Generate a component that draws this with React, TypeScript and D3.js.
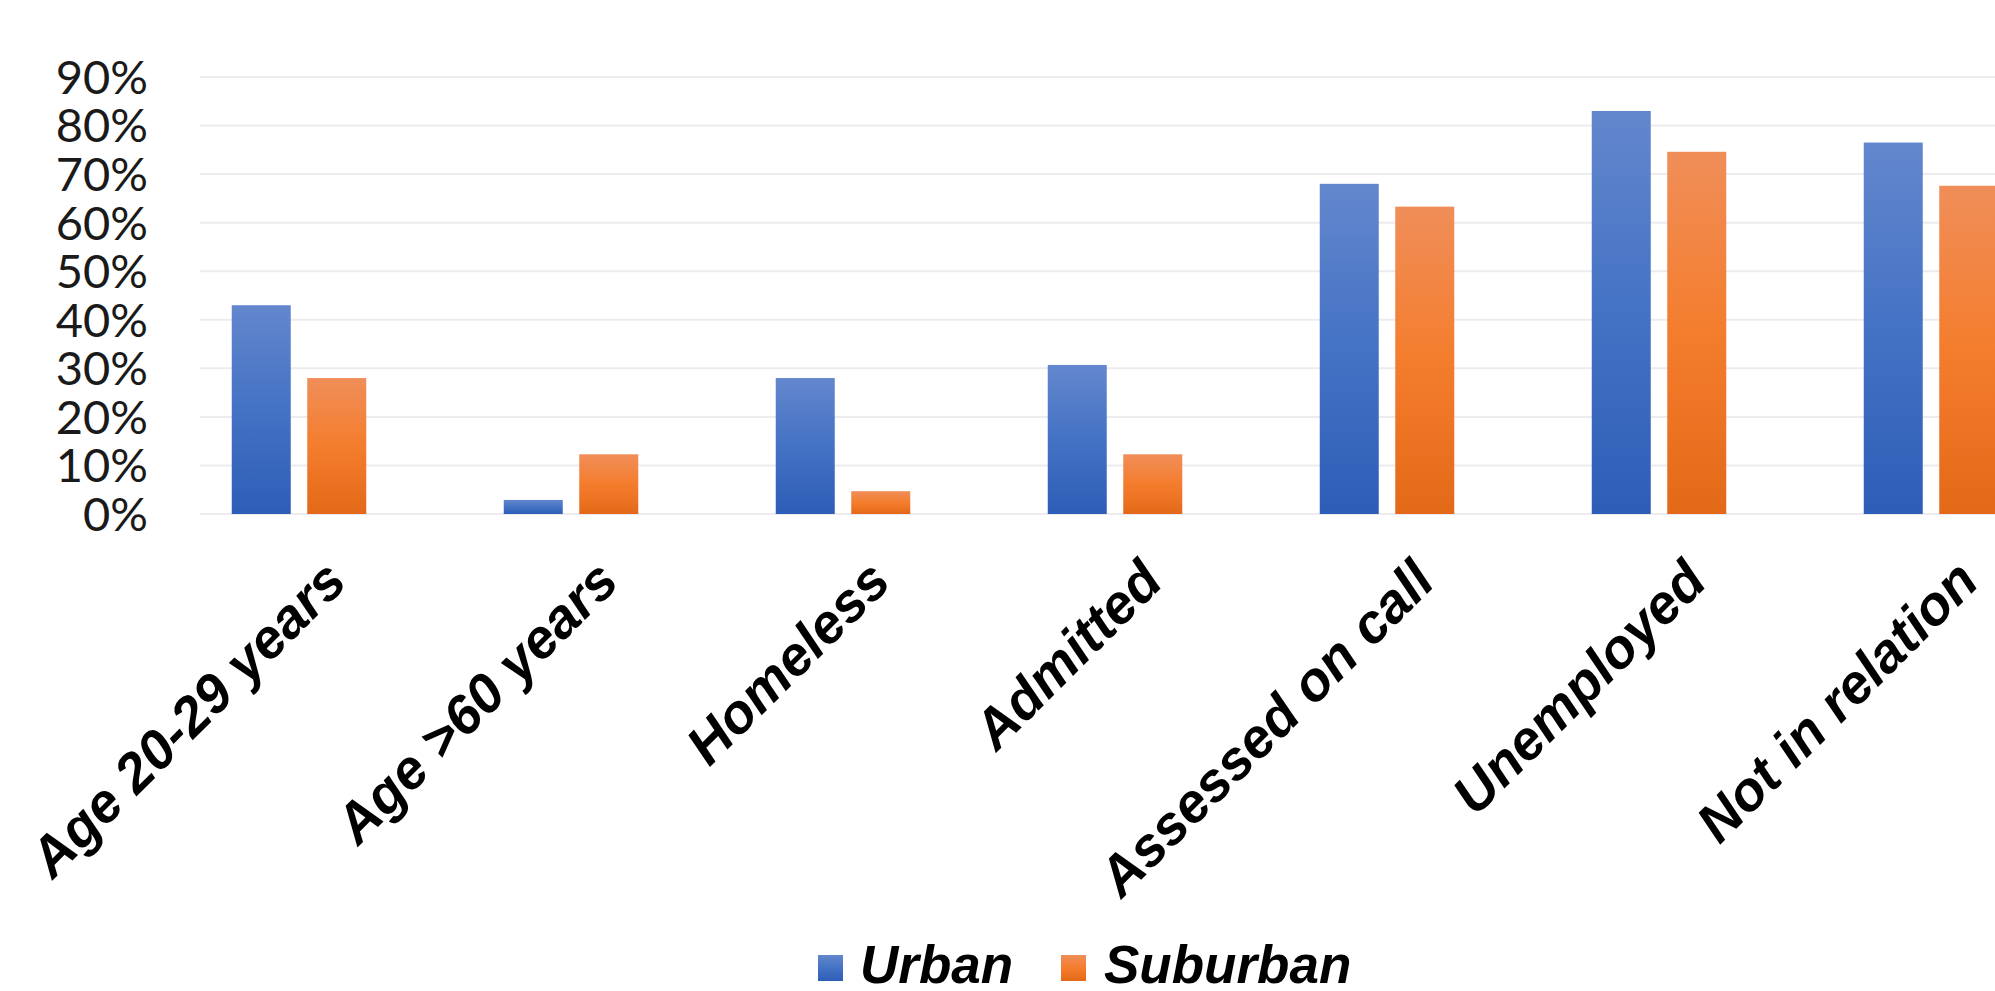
import React from "react";
import * as d3 from "d3";

// Share of patients per characteristic, by setting (percent)
const categories = [
  "Age 20-29 years",
  "Age >60 years",
  "Homeless",
  "Admitted",
  "Assessed on call",
  "Unemployed",
  "Not in relation",
];
const urbanValues = [43, 2.9, 28, 30.7, 68, 83, 76.5];
const suburbanValues = [28, 12.3, 4.7, 12.3, 63.3, 74.6, 67.6];
const seriesNames = ["Urban", "Suburban"];
const yTicks = [0, 10, 20, 30, 40, 50, 60, 70, 80, 90];

const W = 1995;
const H = 991;

const gradients: Record<string, string[]> = {
  Urban: ["#6387cd", "#4472c4", "#2d5db7"],
  Suburban: ["#f08e59", "#f47d2d", "#e36918"],
};

export default function App() {
  const gridLeft = 200;
  const y = d3.scaleLinear().domain([0, 90]).range([514, 77]);

  const x0 = d3
    .scaleBand<string>()
    .domain(categories)
    .range([163, 163 + 272 * categories.length])
    .paddingInner(0.5055)
    .paddingOuter(0.5055 / 2);

  const x1 = d3
    .scaleBand<string>()
    .domain(seriesNames)
    .range([0, x0.bandwidth()])
    .paddingInner(0.2185);

  const rows = categories.map((c, i) => ({
    category: c,
    values: [
      { key: "Urban", value: urbanValues[i] },
      { key: "Suburban", value: suburbanValues[i] },
    ],
  }));

  const labelFont = "'Liberation Sans', Arial, sans-serif";

  return (
    <div style={{ position: "absolute", left: 0, top: 0 }}>
      <style>{`body{margin:0;background:#fff}`}</style>
      <svg width={W} height={H} style={{ display: "block", background: "#fff" }}>
        <defs>
          {seriesNames.map((s) => (
            <linearGradient key={s} id={`grad-${s}`} x1="0" y1="0" x2="0" y2="1">
              <stop offset="0%" stopColor={gradients[s][0]} />
              <stop offset="50%" stopColor={gradients[s][1]} />
              <stop offset="100%" stopColor={gradients[s][2]} />
            </linearGradient>
          ))}
        </defs>

        {/* horizontal gridlines */}
        {yTicks.map((t) => (
          <line
            key={`g${t}`}
            x1={gridLeft}
            x2={W}
            y1={y(t)}
            y2={y(t)}
            stroke="#ebebf0"
            strokeWidth={2}
          />
        ))}

        {/* y tick labels */}
        {yTicks.map((t) => (
          <text
            key={`t${t}`}
            x={148}
            y={y(t)}
            dy="0.36em"
            textAnchor="end"
            fontFamily="Lato, 'Open Sans', sans-serif"
            fontSize={47}
            fill="#1a1a1a"
          >
            {`${t}%`}
          </text>
        ))}

        {/* bars */}
        {rows.map((r) => (
          <g key={r.category} transform={`translate(${x0(r.category)},0)`}>
            {r.values.map((v) => (
              <rect
                key={v.key}
                x={x1(v.key)}
                y={y(v.value)}
                width={x1.bandwidth()}
                height={y(0) - y(v.value)}
                fill={`url(#grad-${v.key})`}
              />
            ))}
          </g>
        ))}

        {/* rotated category labels */}
        {categories.map((c) => {
          const cx = (x0(c) as number) + x0.bandwidth() / 2;
          return (
            <text
              key={`l${c}`}
              transform={`translate(${cx + 50},${y(0) + 70}) rotate(-45)`}
              textAnchor="end"
              fontFamily={labelFont}
              fontWeight="bold"
              fontStyle="italic"
              fontSize={55}
              fill="#000"
            >
              {c}
            </text>
          );
        })}

        {/* legend */}
        <g>
          <rect x={818} y={955} width={25} height={26} fill="url(#grad-Urban)" />
          <text
            x={860}
            y={983}
            fontFamily={labelFont}
            fontWeight="bold"
            fontStyle="italic"
            fontSize={53}
            fill="#000"
          >
            Urban
          </text>
          <rect x={1061} y={955} width={25} height={26} fill="url(#grad-Suburban)" />
          <text
            x={1104}
            y={983}
            fontFamily={labelFont}
            fontWeight="bold"
            fontStyle="italic"
            fontSize={53}
            fill="#000"
          >
            Suburban
          </text>
        </g>
      </svg>
    </div>
  );
}
